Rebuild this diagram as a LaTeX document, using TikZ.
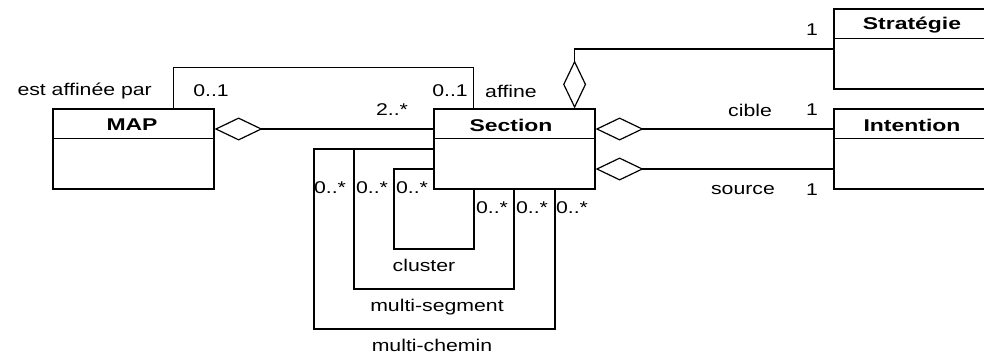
\documentclass[tikz,border=0pt]{standalone}
\usepackage{fontspec}
\setmainfont{Liberation Sans}[FakeStretch=1.25]
\newfontfamily\classfont{Liberation Sans}[FakeStretch=1.35]
\usepackage{tikz}
\usetikzlibrary{arrows.meta,positioning}
\definecolor{umlblack}{RGB}{0,0,0}
\newcommand{\lblsize}{\fontsize{17}{19}\selectfont}
\tikzset{
  classbox/.style={draw=umlblack,line width=1.2pt,minimum width=161pt,minimum height=80pt,inner sep=0pt},
  classname/.style={font=\classfont\bfseries\lblsize,inner sep=0pt},
  mult/.style={font=\lblsize,inner sep=0pt},
  link/.style={draw=umlblack,line width=1.2pt},
  agg/.style={link,arrows={Diamond[open,length=48pt,width=23pt]-}}
}

\begin{document}
\begin{tikzpicture}[x=1pt,y=-1pt]
\useasboundingbox (0,0) rectangle (984,356);
% Classes
\node[classbox] (map) at (133.5,149) {};
\node[classname] (maptitle) at (132,125) {MAP};
\draw[link] ([yshift=-30pt]map.north west) -- ([yshift=-30pt]map.north east);
\node[classbox] (section) at (514.5,149) {};
\node[classname] (sectiontitle) at (511,125) {Section};
\draw[link] ([yshift=-30pt]section.north west) -- ([yshift=-30pt]section.north east);
\node[classbox] (strategie) at (914.5,49) {};
\node[classname] (strategietitle) at (912,25) {Stratégie};
\draw[link] ([yshift=-30pt]strategie.north west) -- ([yshift=-30pt]strategie.north east);
\node[classbox] (intention) at (914.5,149) {};
\node[classname] (intentiontitle) at (912,125) {Intention};
\draw[link] ([yshift=-30pt]intention.north west) -- ([yshift=-30pt]intention.north east);
% MAP composed of sections
\draw[agg] (map.east |- 0,129) -- (section.west |- 0,129);
\node[mult] (mapmult) at (392,110) {2..*};
% MAP refined by section
\draw[link] ([xshift=-41pt]map.north east) -- ++(0,-41) -| ([xshift=40pt]section.north west);
\node[mult,anchor=east] (estaffinee) at (152,91) {est affinée par};
\node[mult] (affmultl) at (211,91) {0..1};
\node[mult] (affmultr) at (450,91) {0..1};
\node[mult] (affine) at (511,91) {affine};
% Section to Strategie
\draw[agg] ([xshift=-21pt]section.north east) |- (strategie.west |- 0,49);
\node[mult] (stratmult) at (812,30) {1};
% Section to Intention
\draw[agg] (section.east |- 0,129) -- (intention.west |- 0,129);
\node[mult] (cible) at (750,110) {cible};
\node[mult] (ciblemult) at (812,110) {1};
\draw[agg] (section.east |- 0,169) -- (intention.west |- 0,169);
\node[mult] (source) at (743,190) {source};
\node[mult] (sourcemult) at (812,190) {1};
% Reflexive links on Section
\draw[link] (section.west |- 0,149) -| (314,329) -| (section.south -| 555,0);
\draw[link] (section.west |- 0,149) -| (354,289) -| (section.south -| 514,0);
\draw[link] (section.west |- 0,169) -| (394,249) -| (section.south -| 474,0);
\node[mult] (chemina) at (330,188) {0..*};
\node[mult] (segmenta) at (372,188) {0..*};
\node[mult] (clustera) at (412,188) {0..*};
\node[mult] (clusterb) at (492,208) {0..*};
\node[mult] (segmentb) at (532,208) {0..*};
\node[mult] (cheminb) at (572,208) {0..*};
\node[mult] (cluster) at (424,265) {cluster};
\node[mult] (multisegment) at (437,307) {multi-segment};
\node[mult] (multichemin) at (432,345) {multi-chemin};
\end{tikzpicture}
\end{document}
